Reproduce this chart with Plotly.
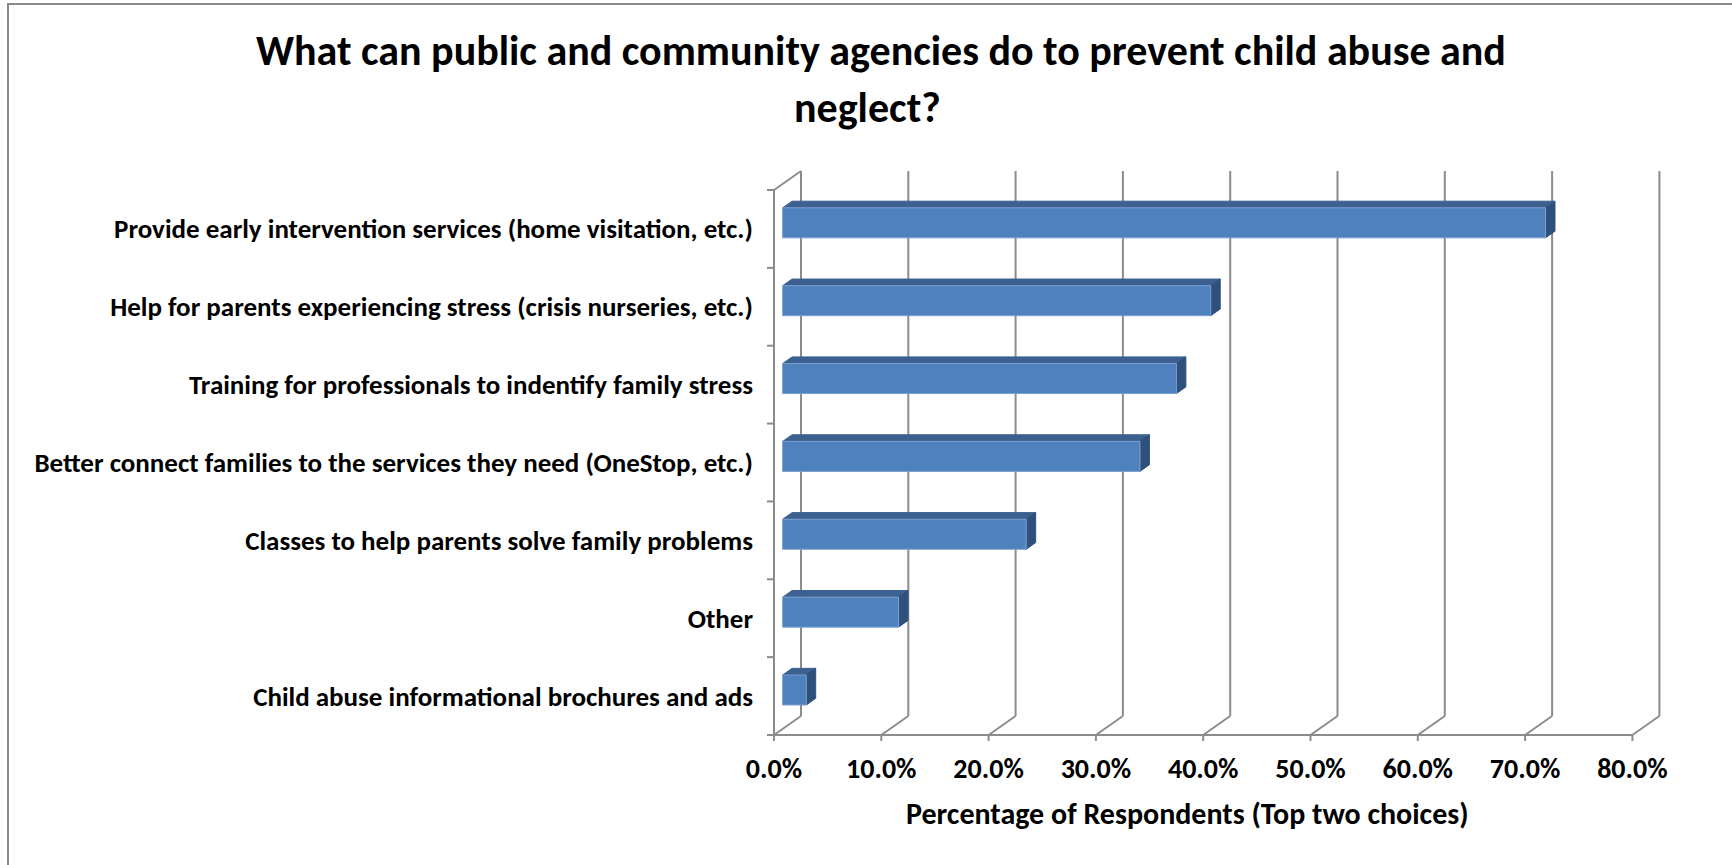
import plotly.graph_objects as go

# Survey results: share of respondents choosing each option (top two choices)
categories = [
    "Provide early intervention services (home visitation, etc.)",
    "Help for parents experiencing stress (crisis nurseries, etc.)",
    "Training for professionals to indentify family stress",
    "Better connect families to the services they need (OneStop, etc.)",
    "Classes to help parents solve family problems",
    "Other",
    "Child abuse informational brochures and ads",
]
values = [71.1, 39.9, 36.7, 33.3, 22.7, 10.8, 2.2]
x_ticks = [0, 10, 20, 30, 40, 50, 60, 70, 80]
x_tick_text = ["0.0%", "10.0%", "20.0%", "30.0%", "40.0%", "50.0%", "60.0%", "70.0%", "80.0%"]

title_lines = ["What can public and community agencies do to prevent child abuse and", "neglect?"]
x_title = "Percentage of Respondents (Top two choices)"

FONT = "Carlito, Calibri, Lato, sans-serif"
GRID = "#8c8c8c"
FRONT = "#4f81bd"
TOP = "#3c6190"
SIDE = "#30507c"

# Oblique "3-D" projection expressed in axis units
W, H = 1732, 865
L, R, T, B = 760, 1670, 165, 748
PX_X = 10.73          # pixels per percentage point
PX_Y = 77.86          # pixels per category band
X0_PX, Y0_PX = 774, 735
DX = 27 / PX_X        # full depth offset along x (percent units)
DY = 19 / PX_Y        # full depth offset along y (band units)
F0, F1 = 0.32, 0.67   # bar front / back depth fractions
BAR_H = 30 / PX_Y     # bar thickness in band units
N = len(categories)
X_MAX = x_ticks[-1]

x_range = [(L - X0_PX) / PX_X, (R - X0_PX) / PX_X]
y_range = [(Y0_PX - B) / PX_Y, (Y0_PX - T) / PX_Y]

fig = go.Figure()


def add_lines(segments, color=GRID, width=2):
    xs, ys = [], []
    for (xa, ya), (xb, yb) in segments:
        xs += [xa, xb, None]
        ys += [ya, yb, None]
    fig.add_trace(go.Scatter(x=xs, y=ys, mode="lines",
                             line=dict(color=color, width=width),
                             hoverinfo="skip", showlegend=False))


# back wall gridlines + floor diagonals + floor front edge
segs = []
for v in x_ticks:
    segs.append(((v + DX, DY), (v + DX, N + DY)))
    segs.append(((v, 0), (v + DX, DY)))
    segs.append(((v, 0), (v, -6 / PX_Y)))
segs.append(((0, 0), (X_MAX, 0)))
# side wall: front edge, top edge and category ticks
segs.append(((0, 0), (0, N)))
segs.append(((0, N), (DX, N + DY)))
for k in range(N + 1):
    segs.append(((-7 / PX_X, k), (0, k)))
add_lines(segs)


def add_face(xs, ys, color, edge=None):
    fig.add_trace(go.Scatter(x=xs + [xs[0]], y=ys + [ys[0]], mode="lines",
                             fill="toself", fillcolor=color,
                             line=dict(color=edge or color, width=1),
                             hoverinfo="skip", showlegend=False))


for i, v in enumerate(values):
    uc = N - 0.5 - i
    x0f, x1f = F0 * DX, v + F0 * DX
    y0f, y1f = uc - BAR_H / 2 + F0 * DY, uc + BAR_H / 2 + F0 * DY
    ddx, ddy = (F1 - F0) * DX, (F1 - F0) * DY
    # top face
    add_face([x0f, x1f, x1f + ddx, x0f + ddx], [y1f, y1f, y1f + ddy, y1f + ddy], TOP)
    # side face
    add_face([x1f, x1f + ddx, x1f + ddx, x1f], [y0f, y0f + ddy, y1f + ddy, y1f], SIDE)
    # front face
    add_face([x0f, x1f, x1f, x0f], [y0f, y0f, y1f, y1f], FRONT, edge="#7a9fd0")

fig.update_layout(
    width=W, height=H,
    margin=dict(l=L, r=W - R, t=T, b=H - B),
    paper_bgcolor="white", plot_bgcolor="white",
    xaxis=dict(range=x_range, showgrid=False, zeroline=False, showline=False,
               tickvals=x_ticks, ticktext=x_tick_text, ticks="",
               ticklabelstandoff=1,
               tickfont=dict(family=FONT, size=28, color="black", weight="bold")),
    yaxis=dict(range=y_range, showgrid=False, zeroline=False, showline=False,
               tickvals=[N - 0.5 - i for i in range(N)], ticktext=categories,
               ticks="", ticklabelstandoff=6,
               tickfont=dict(family=FONT, size=27, color="black", weight="bold")),
    showlegend=False,
)


def px_to_paper_x(px):
    return (px - L) / (R - L)


def px_to_paper_y(py):
    return (B - py) / (B - T)


# two-line chart title
for text, cx, cy in zip(title_lines, [881, 867], [50, 108]):
    fig.add_annotation(text=text, xref="paper", yref="paper",
                       x=px_to_paper_x(cx), y=px_to_paper_y(cy),
                       xanchor="center", yanchor="middle", showarrow=False,
                       font=dict(family=FONT, size=42, color="black", weight="bold"))

fig.add_annotation(text=x_title, xref="x", yref="paper",
                   x=(1187 - X0_PX) / PX_X, y=px_to_paper_y(813),
                   xanchor="center", yanchor="middle", showarrow=False,
                   font=dict(family=FONT, size=30, color="black", weight="bold"))

# chart frame (right and bottom edges lie past the canvas)
fig.add_shape(type="rect", xref="paper", yref="paper",
              x0=px_to_paper_x(8), x1=px_to_paper_x(1745),
              y0=px_to_paper_y(880), y1=px_to_paper_y(4),
              line=dict(color="#8a8a8a", width=2), fillcolor="rgba(0,0,0,0)",
              layer="below")

fig.write_html("out.html")
